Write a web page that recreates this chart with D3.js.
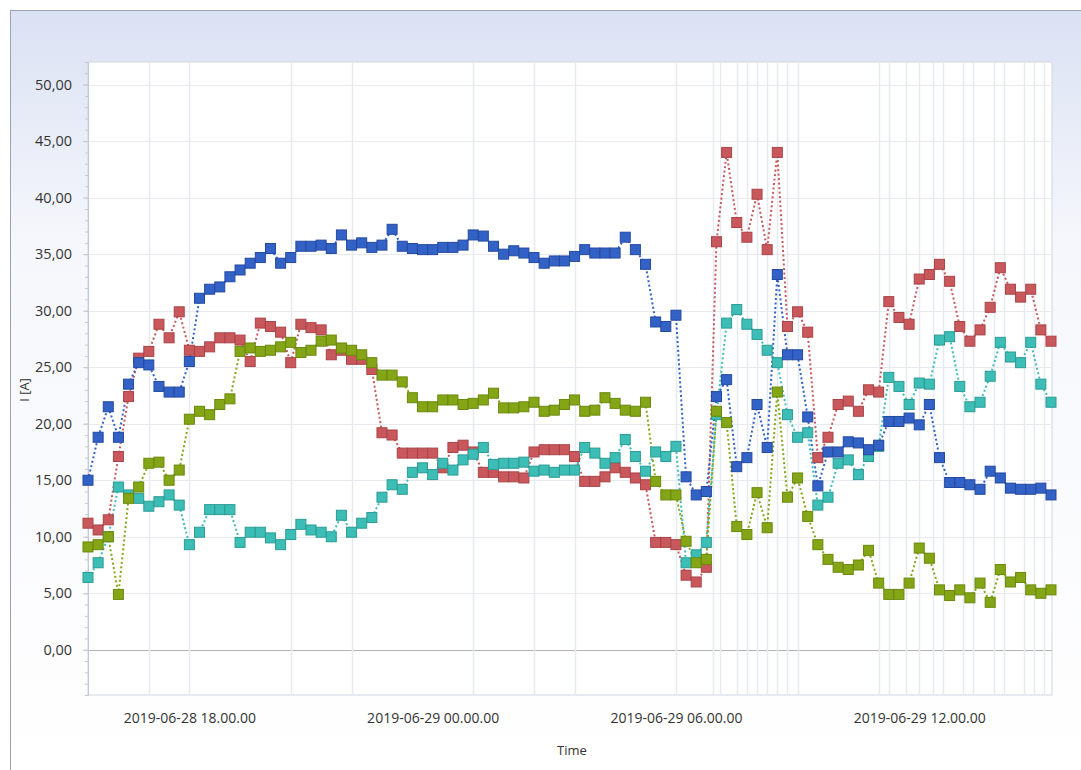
<!DOCTYPE html>
<html>
<head>
<meta charset="utf-8">
<script src="https://cdn.jsdelivr.net/npm/d3@7"></script>
<style>
  body { margin: 0; background: #fff; }
  text { font-family: "Open Sans", "DejaVu Sans", sans-serif; }
</style>
</head>
<body>
<div id="chart"></div>
<script>
// 15 minute samples, 2019-06-28 15:30 -> 2019-06-29 15:15
const startTime = "2019-06-28T15:30:00";
const endTime = "2019-06-29T15:15:00";

const blueValues = [
  15.0, 18.8, 21.5, 18.8, 23.5, 25.4, 25.2, 23.3, 22.8, 22.8,
  25.5, 31.1, 31.9, 32.1, 33.0, 33.6, 34.2, 34.7, 35.5, 34.2,
  34.7, 35.7, 35.7, 35.8, 35.5, 36.7, 35.8, 36.0, 35.6, 35.8,
  37.2, 35.7, 35.5, 35.4, 35.4, 35.6, 35.6, 35.8, 36.7, 36.6,
  35.7, 35.0, 35.3, 35.1, 34.7, 34.2, 34.4, 34.4, 34.8, 35.4,
  35.1, 35.1, 35.1, 36.5, 35.4, 34.1, 29.0, 28.6, 29.6, 15.3,
  13.7, 14.0, 22.4, 23.9, 16.2, 17.0, 21.7, 17.9, 33.2, 26.1,
  26.1, 20.6, 14.5, 17.5, 17.5, 18.4, 18.3, 17.7, 18.1, 20.2,
  20.2, 20.5, 19.9, 21.7, 17.0, 14.8, 14.8, 14.6, 14.2, 15.8,
  15.2, 14.3, 14.2, 14.2, 14.3, 13.7
];

const redValues = [
  11.2, 10.6, 11.5, 17.1, 22.4, 25.8, 26.4, 28.8, 27.6, 29.9,
  26.5, 26.4, 26.8, 27.6, 27.6, 27.4, 25.5, 28.9, 28.6, 28.1,
  25.4, 28.8, 28.5, 28.3, 26.1, 26.5, 25.7, 25.7, 24.8, 19.2,
  19.0, 17.4, 17.4, 17.4, 17.4, 16.1, 17.9, 18.1, 17.5, 15.7,
  15.7, 15.3, 15.3, 15.2, 17.5, 17.7, 17.7, 17.7, 17.1, 14.9,
  14.9, 15.3, 16.1, 15.7, 15.2, 14.6, 9.5, 9.5, 9.3, 6.6,
  6.0, 7.3, 36.1, 44.0, 37.8, 36.5, 40.3, 35.4, 44.0, 28.6,
  29.9, 28.1, 17.0, 18.8, 21.7, 22.0, 21.1, 23.0, 22.8, 30.8,
  29.4, 28.8, 32.8, 33.2, 34.1, 32.6, 28.6, 27.3, 28.3, 30.3,
  33.8, 31.9, 31.2, 31.9, 28.3, 27.3
];

const tealValues = [
  6.4, 7.7, 10.0, 14.4, 13.7, 13.4, 12.7, 13.1, 13.7, 12.8,
  9.3, 10.4, 12.4, 12.4, 12.4, 9.5, 10.4, 10.4, 9.9, 9.3,
  10.2, 11.1, 10.6, 10.4, 10.0, 11.9, 10.4, 11.2, 11.7, 13.5,
  14.6, 14.2, 15.7, 16.1, 15.5, 16.5, 15.9, 16.8, 17.3, 17.9,
  16.4, 16.5, 16.5, 16.6, 15.8, 15.9, 15.7, 15.9, 15.9, 17.9,
  17.4, 16.5, 17.0, 18.6, 17.1, 15.8, 17.5, 17.1, 18.0, 7.7,
  8.4, 9.5, 20.8, 28.9, 30.1, 28.8, 27.9, 26.5, 25.4, 20.8,
  18.8, 19.2, 12.8, 13.5, 16.5, 16.8, 15.5, 17.1, 18.0, 24.1,
  23.3, 21.7, 23.6, 23.5, 27.4, 27.7, 23.3, 21.5, 21.9, 24.2,
  27.2, 25.9, 25.4, 27.2, 23.5, 21.9
];

const greenValues = [
  9.1, 9.3, 10.0, 4.9, 13.4, 14.4, 16.5, 16.6, 15.0, 15.9,
  20.4, 21.1, 20.8, 21.7, 22.2, 26.4, 26.7, 26.4, 26.5, 26.8,
  27.2, 26.3, 26.5, 27.3, 27.4, 26.7, 26.5, 26.1, 25.4, 24.3,
  24.3, 23.7, 22.3, 21.5, 21.5, 22.1, 22.1, 21.7, 21.8, 22.1,
  22.7, 21.4, 21.4, 21.5, 21.9, 21.1, 21.2, 21.7, 22.1, 21.1,
  21.2, 22.3, 21.8, 21.2, 21.1, 21.9, 14.9, 13.7, 13.7, 9.6,
  7.7, 8.0, 21.1, 20.1, 10.9, 10.2, 13.9, 10.8, 22.8, 13.5,
  15.2, 11.8, 9.3, 8.0, 7.3, 7.1, 7.5, 8.8, 5.9, 4.9,
  4.9, 5.9, 9.0, 8.1, 5.3, 4.8, 5.3, 4.6, 5.9, 4.2,
  7.1, 6.0, 6.4, 5.3, 5.0, 5.3
];

const tickTimes = ["2019-06-28T18:00:00", "2019-06-29T00:00:00", "2019-06-29T06:00:00", "2019-06-29T12:00:00"];
const gridTimes = [
  "2019-06-28T17:00:00", "2019-06-28T18:00:00", "2019-06-28T20:30:00", "2019-06-28T22:00:00",
  "2019-06-29T01:00:00", "2019-06-29T02:30:00", "2019-06-29T03:30:00", "2019-06-29T06:00:00",
  "2019-06-29T06:55:00", "2019-06-29T07:05:00", "2019-06-29T07:30:00", "2019-06-29T07:45:00",
  "2019-06-29T08:00:00", "2019-06-29T08:15:00", "2019-06-29T08:30:00", "2019-06-29T08:45:00",
  "2019-06-29T09:00:00", "2019-06-29T11:00:00", "2019-06-29T11:15:00", "2019-06-29T11:40:00",
  "2019-06-29T12:00:00", "2019-06-29T12:20:00", "2019-06-29T12:35:00", "2019-06-29T13:05:00",
  "2019-06-29T13:20:00", "2019-06-29T13:50:00", "2019-06-29T14:05:00", "2019-06-29T14:35:00",
  "2019-06-29T14:50:00", "2019-06-29T15:05:00"
];
const yTicks = [0, 5, 10, 15, 20, 25, 30, 35, 40, 45, 50];

const width = 1081;
const height = 770;
const plotLeft = 88;
const plotRight = 1052;
const plotTop = 62;
const plotBottom = 695;

const parse = d3.timeParse("%Y-%m-%dT%H:%M:%S");
const times = d3.timeMinute.every(15).range(parse(startTime), d3.timeMinute.offset(parse(endTime), 1));

const series = [
  { name: "red", values: redValues, fill: "#c9585c", stroke: "#a94347" },
  { name: "teal", values: tealValues, fill: "#3cbdb5", stroke: "#2c9c95" },
  { name: "green", values: greenValues, fill: "#84a616", stroke: "#6a880c" },
  { name: "blue", values: blueValues, fill: "#3262c6", stroke: "#2549a0" }
];

const x = d3.scaleTime().domain([times[0], times[times.length - 1]]).range([plotLeft, plotRight - 1]);
const y = d3.scaleLinear().domain([-4, 52]).range([plotBottom, plotTop]);

const svg = d3.select("#chart").append("svg")
  .attr("width", width)
  .attr("height", height);

// background frame with light gradient
const defs = svg.append("defs");
const bg = defs.append("linearGradient").attr("id", "bgGrad")
  .attr("x1", "0%").attr("x2", "0%").attr("y1", "0%").attr("y2", "100%");
bg.append("stop").attr("offset", "0%").attr("stop-color", "#dae1f3");
bg.append("stop").attr("offset", "30%").attr("stop-color", "#f6f7fc");
bg.append("stop").attr("offset", "100%").attr("stop-color", "#ffffff");

svg.append("rect")
  .attr("x", 10.5).attr("y", 10.5)
  .attr("width", width).attr("height", height)
  .attr("fill", "url(#bgGrad)")
  .attr("stroke", "#9aa3b5");

// plot area
svg.append("rect")
  .attr("x", plotLeft).attr("y", plotTop)
  .attr("width", plotRight - plotLeft).attr("height", plotBottom - plotTop)
  .attr("fill", "#ffffff")
  .attr("stroke", "#cfd6e2");

// horizontal grid
svg.append("g").selectAll("line")
  .data(yTicks)
  .join("line")
  .attr("x1", plotLeft).attr("x2", plotRight)
  .attr("y1", d => Math.round(y(d)) + 0.5).attr("y2", d => Math.round(y(d)) + 0.5)
  .attr("stroke", d => d === 0 ? "#b4b4b4" : "#e8eaef")
  .attr("stroke-width", 1);

// vertical grid
svg.append("g").selectAll("line")
  .data(gridTimes.map(parse))
  .join("line")
  .attr("x1", d => Math.round(x(d)) + 0.5).attr("x2", d => Math.round(x(d)) + 0.5)
  .attr("y1", plotTop).attr("y2", plotBottom)
  .attr("stroke", "#e6ebf2")
  .attr("stroke-width", 1.5);

// y axis minor ticks + labels
svg.append("g")
  .attr("transform", `translate(${plotLeft},0)`)
  .call(d3.axisLeft(y).tickValues(d3.range(-3, 52, 1)).tickSize(3).tickFormat(""))
  .call(g => g.select(".domain").attr("stroke", "#c4c9d2"))
  .call(g => g.selectAll(".tick line").attr("stroke", "#c4c9d2"));

svg.append("g")
  .attr("transform", `translate(${plotLeft},0)`)
  .call(d3.axisLeft(y).tickValues(yTicks).tickSize(5).tickPadding(11)
    .tickFormat(d => d3.format(".2f")(d).replace(".", ",")))
  .call(g => g.select(".domain").remove())
  .call(g => g.selectAll(".tick line").attr("stroke", "#c4c9d2"))
  .call(g => g.selectAll(".tick text").attr("fill", "#333").attr("font-size", 14.5)
    .attr("font-family", "Open Sans, sans-serif"));

// x axis labels
svg.append("g")
  .attr("transform", `translate(0,${plotBottom})`)
  .call(d3.axisBottom(x).tickValues(tickTimes.map(parse)).tickSize(0).tickPadding(18)
    .tickFormat(d3.timeFormat("%Y-%m-%d %H.%M.%S")))
  .call(g => g.select(".domain").remove())
  .call(g => g.selectAll(".tick text").attr("fill", "#333").attr("font-size", 14)
    .attr("font-family", "Open Sans, sans-serif"));

// axis titles
svg.append("text")
  .attr("x", 572).attr("y", 755)
  .attr("text-anchor", "middle")
  .attr("font-size", 13)
  .attr("fill", "#333")
  .text("Time");

svg.append("text")
  .attr("transform", "translate(29,390) rotate(-90)")
  .attr("text-anchor", "middle")
  .attr("font-size", 13)
  .attr("fill", "#333")
  .text("I [A]");

// dotted lines
const line = d3.line()
  .x((d, i) => x(times[i]))
  .y(d => y(d));

series.forEach(s => {
  svg.append("path")
    .datum(s.values)
    .attr("fill", "none")
    .attr("stroke", s.fill)
    .attr("stroke-width", 2)
    .attr("stroke-dasharray", "2,2.5")
    .attr("d", line);
});

// square markers
series.forEach(s => {
  svg.append("g").selectAll("rect")
    .data(s.values)
    .join("rect")
    .attr("x", (d, i) => x(times[i]) - 5)
    .attr("y", d => y(d) - 5)
    .attr("width", 10)
    .attr("height", 10)
    .attr("fill", s.fill)
    .attr("stroke", s.stroke)
    .attr("stroke-width", 1);
});
</script>
</body>
</html>
